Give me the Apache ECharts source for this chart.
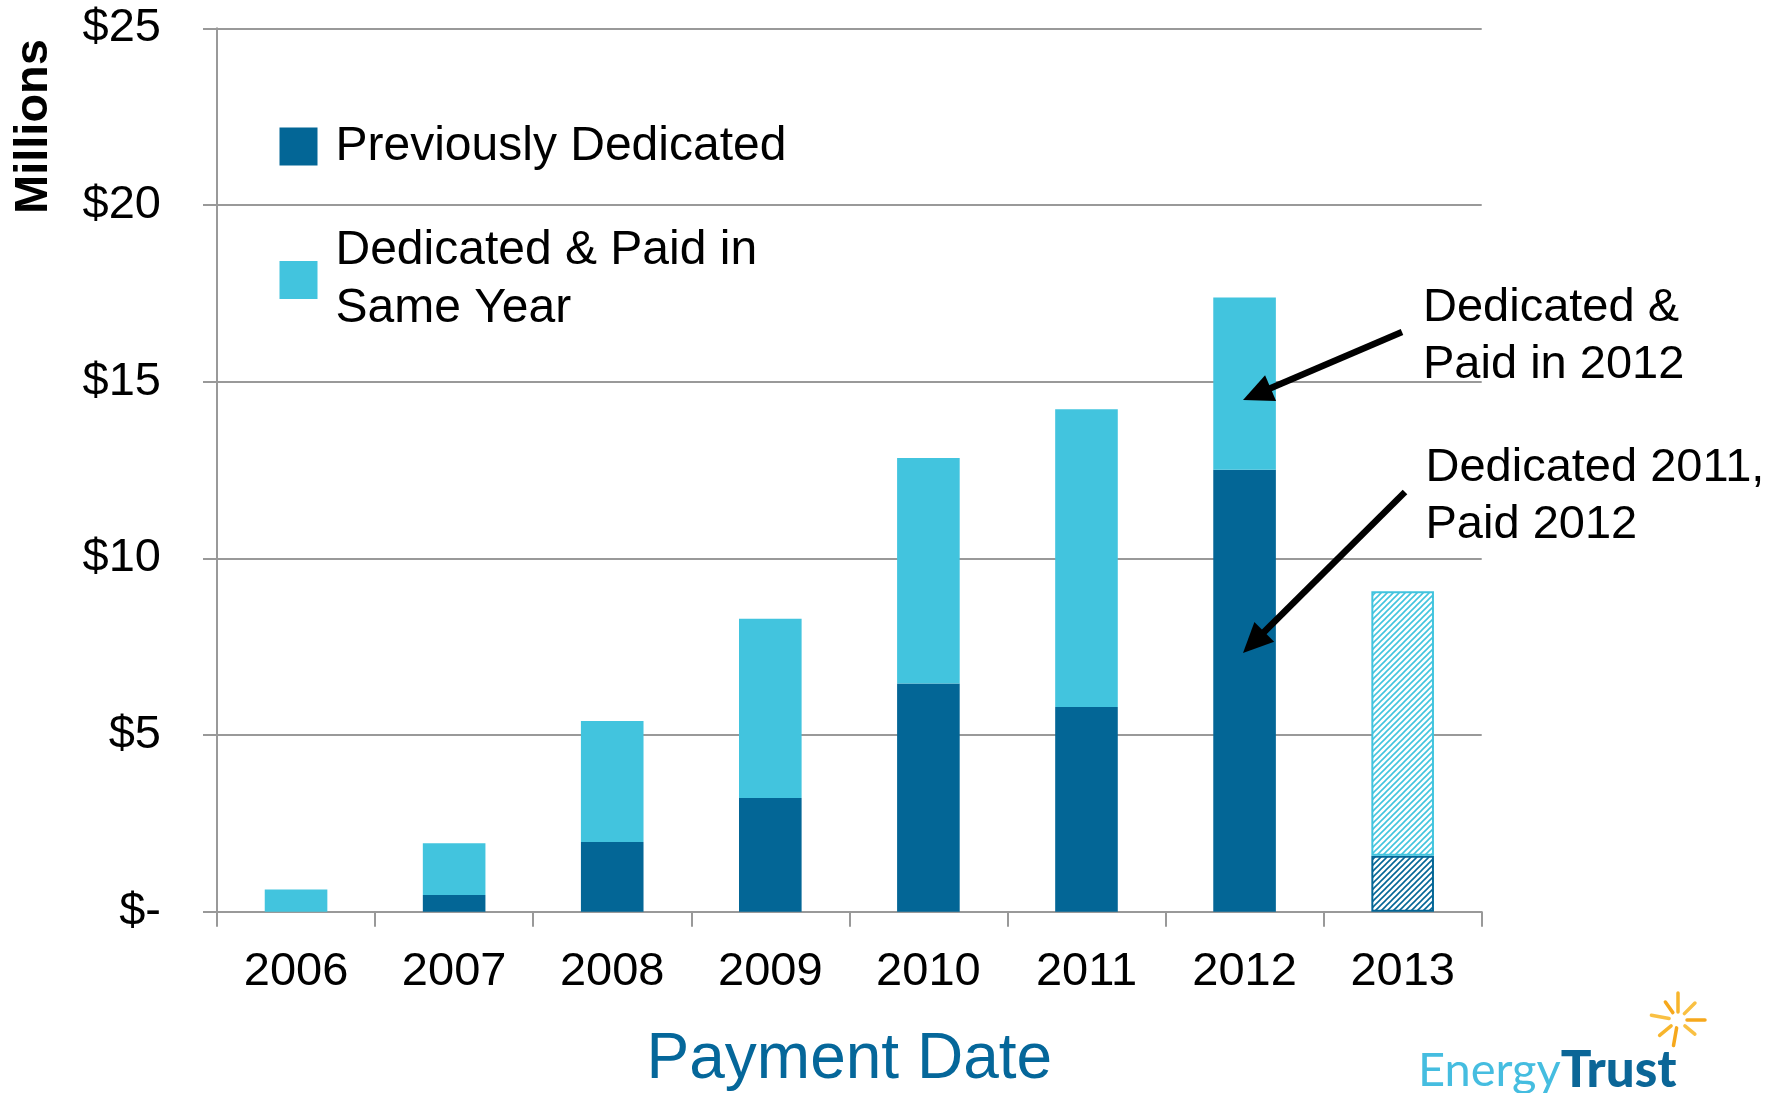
<!DOCTYPE html>
<html>
<head>
<meta charset="utf-8">
<script src="https://cdn.jsdelivr.net/npm/echarts@6/dist/echarts.min.js"></script>
<style>
html,body{margin:0;padding:0;background:#fff;}
#chart{width:1777px;height:1093px;}
</style>
</head>
<body>
<div id="chart"></div>
<script>
const categories = ['2006', '2007', '2008', '2009', '2010', '2011', '2012', '2013'];
const previouslyDedicated = [0, 0.47, 1.97, 3.22, 6.46, 5.79, 12.51, 1.58];
const paidSameYear = [0.63, 1.47, 3.43, 5.07, 6.38, 8.43, 4.87, 7.49];
const projected = [false, false, false, false, false, false, false, true];
const yTickLabels = ['$-', '$5', '$10', '$15', '$20', '$25'];
const seriesNames = ['Previously Dedicated', 'Dedicated & Paid in Same Year'];

const DARK = '#036696';
const LIGHT = '#42C4DE';
const FONT = '"Liberation Sans", Arial, sans-serif';

function hatch(color) {
  const s = 6;
  const c = document.createElement('canvas');
  c.width = s; c.height = s;
  const g = c.getContext('2d');
  g.fillStyle = '#ffffff';
  g.fillRect(0, 0, s, s);
  g.strokeStyle = color;
  g.lineWidth = 1.6;
  g.beginPath();
  g.moveTo(-1, s + 1); g.lineTo(s + 1, -1);
  g.moveTo(-s / 2 - 1, s / 2 + 1); g.lineTo(s / 2 + 1, -s / 2 - 1);
  g.moveTo(s / 2 - 1, s * 1.5 + 1); g.lineTo(s * 1.5 + 1, s / 2 - 1);
  g.stroke();
  return { image: c, repeat: 'repeat' };
}

function buildData(values, color) {
  return values.map((v, i) => projected[i]
    ? { value: v, itemStyle: { color: hatch(color), borderColor: color, borderWidth: 2 } }
    : v);
}

function arrow(x1, y1, x2, y2) {
  const dx = x2 - x1, dy = y2 - y1;
  const len = Math.sqrt(dx * dx + dy * dy);
  const ux = dx / len, uy = dy / len;
  const hl = 30, hw = 14;
  const bx = x2 - ux * hl, by = y2 - uy * hl;
  return [
    { type: 'line', z: 100, shape: { x1: x1, y1: y1, x2: bx + ux * 4, y2: by + uy * 4 },
      style: { stroke: '#000', lineWidth: 6.5 } },
    { type: 'polygon', z: 100, shape: { points: [[x2, y2], [bx - uy * hw, by + ux * hw], [bx + uy * hw, by - ux * hw]] },
      style: { fill: '#000' } }
  ];
}

function sunburst(cx, cy) {
  const els = [];
  const rays = [
    { a: -90, r0: 8, r1: 27, c: '#F7B52C' },
    { a: -45, r0: 9, r1: 24, c: '#F9C043' },
    { a: 0, r0: 9, r1: 27, c: '#F6A81C' },
    { a: 40, r0: 9, r1: 22, c: '#F9C043' },
    { a: 100, r0: 8, r1: 26, c: '#F6A81C' },
    { a: 140, r0: 9, r1: 24, c: '#F7B52C' },
    { a: 190, r0: 9, r1: 27, c: '#F9C043' },
    { a: 235, r0: 9, r1: 22, c: '#F6A81C' }
  ];
  rays.forEach(r => {
    const t = r.a * Math.PI / 180;
    els.push({
      type: 'line', z: 100,
      shape: { x1: cx + Math.cos(t) * r.r0, y1: cy + Math.sin(t) * r.r0,
               x2: cx + Math.cos(t) * r.r1, y2: cy + Math.sin(t) * r.r1 },
      style: { stroke: r.c, lineWidth: 3.5, lineCap: 'round' }
    });
  });
  return els;
}

const chart = echarts.init(document.getElementById('chart'), null, { renderer: 'canvas' });

const option = {
  animation: false,
  backgroundColor: '#ffffff',
  textStyle: { fontFamily: FONT },
  grid: { left: 217, right: 295.3, top: 28.3, bottom: 181.3, containLabel: false, outerBoundsMode: 'none' },
  legend: [
    {
      data: [seriesNames[0]],
      left: 279.5, top: 117.5, padding: 0,
      itemWidth: 38, itemHeight: 38, icon: 'rect',
      textStyle: { fontSize: 48, color: '#000', fontFamily: FONT, lineHeight: 58, padding: [0, 0, 0, 13] },
      selectedMode: false
    },
    {
      data: [seriesNames[1]],
      left: 279.5, top: 222, padding: 0,
      itemWidth: 38, itemHeight: 38, icon: 'rect',
      formatter: () => 'Dedicated & Paid in\nSame Year',
      textStyle: { fontSize: 48, color: '#000', fontFamily: FONT, lineHeight: 58, padding: [0, 0, 0, 13] },
      selectedMode: false
    }
  ],
  xAxis: {
    type: 'category',
    data: categories,
    boundaryGap: true,
    axisLine: { show: true, lineStyle: { color: '#999999', width: 2 } },
    axisTick: { show: true, interval: 0, length: 15, alignWithLabel: false, lineStyle: { color: '#999999', width: 2 } },
    axisLabel: { interval: 0, margin: 37, fontSize: 47, color: '#000', fontFamily: FONT },
    splitLine: { show: false },
    name: 'Payment Date',
    nameLocation: 'middle',
    nameGap: 117,
    nameTextStyle: { fontSize: 64, color: '#05679A', fontFamily: FONT }
  },
  yAxis: {
    type: 'value',
    min: 0, max: 25, interval: 5,
    axisLine: { show: true, lineStyle: { color: '#999999', width: 2 } },
    axisTick: { show: true, length: 14, inside: false, lineStyle: { color: '#999999', width: 2 } },
    axisLabel: { margin: 56, fontSize: 47, color: '#000', fontFamily: FONT,
      formatter: v => yTickLabels[Math.round(v / 5)] },
    splitLine: { show: true, lineStyle: { color: '#999999', width: 2 } }
  },
  series: [
    {
      name: seriesNames[0], type: 'bar', stack: 'total', barWidth: '39.6%',
      itemStyle: { color: DARK },
      data: buildData(previouslyDedicated, DARK)
    },
    {
      name: seriesNames[1], type: 'bar', stack: 'total', barWidth: '39.6%',
      itemStyle: { color: LIGHT },
      data: buildData(paidSameYear, LIGHT)
    }
  ],
  graphic: [].concat(
    [{
      type: 'text', z: 100, x: 34, y: 126.5, rotation: Math.PI / 2,
      style: { text: 'Millions', font: 'bold 47px ' + FONT, fill: '#000', align: 'center', verticalAlign: 'middle' }
    },
    {
      type: 'text', z: 100, x: 1423, y: 280,
      style: { text: 'Dedicated &\nPaid in 2012', font: '47px ' + FONT, lineHeight: 57, fill: '#000', align: 'left', verticalAlign: 'top' }
    },
    {
      type: 'text', z: 100, x: 1425.5, y: 439.5,
      style: { text: 'Dedicated 2011,\nPaid 2012', font: '47px ' + FONT, lineHeight: 57, fill: '#000', align: 'left', verticalAlign: 'top' }
    },
    {
      type: 'text', z: 100, x: 1418, y: 1071,
      style: {
        text: '{a|Energy}{b|Trust}', align: 'left', verticalAlign: 'middle',
        rich: {
          a: { font: '47px Lato, ' + FONT, fill: '#45BDE0', color: '#45BDE0' },
          b: { font: '900 51px Lato, ' + FONT, fill: '#0B6697', color: '#0B6697' }
        }
      }
    }],
    arrow(1402, 332, 1243, 400),
    arrow(1405, 492, 1243, 653),
    sunburst(1678, 1020)
  )
};

chart.setOption(option);
</script>
</body>
</html>
